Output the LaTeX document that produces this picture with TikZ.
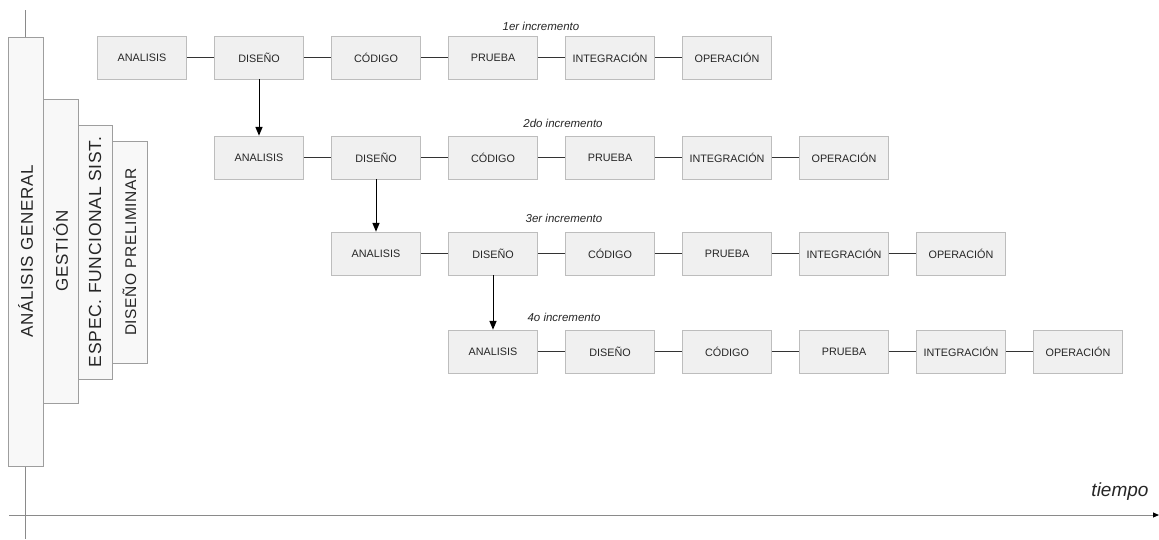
\documentclass[tikz,border=0pt]{standalone}
\usepackage{fontspec}
\setmainfont{Liberation Sans}
\newfontfamily\barfont[LetterSpace=4]{Liberation Sans}
\usepackage{xcolor}
\usetikzlibrary{arrows}
\usetikzlibrary{arrows.meta}
\usetikzlibrary{shapes}

\definecolor{boxfill}{HTML}{F0F0F0}
\definecolor{boxline}{HTML}{BDBDBD}
\definecolor{barfill}{HTML}{F8F8F8}
\definecolor{barline}{HTML}{9E9E9E}
\definecolor{axisline}{HTML}{8A8A8A}
\definecolor{linkline}{HTML}{333333}

\tikzset{
  phase/.style={draw=boxline, fill=boxfill, line width=0.8pt, minimum width=89pt,
    minimum height=43pt, inner sep=0pt, text=black!85,
    font=\fontsize{10.8}{12}\selectfont},
  bar/.style={draw=barline, fill=barfill, line width=0.8pt, rotate=90,
    inner sep=0pt, text=black!85},
  link/.style={draw=linkline, line width=1.3pt},
  down/.style={draw=black, line width=1pt, -triangle 45},
  inclabel/.style={font=\fontsize{11.5}{13}\selectfont\itshape, text=black!85}
}

\begin{document}
\begin{tikzpicture}[x=1pt, y=-1pt]
\useasboundingbox (0,0) rectangle (1159,539);
% Zeitachsen:
\coordinate (vtop) at (25,10);
\coordinate (vbot) at (25,539);
\coordinate (hleft) at (9,515);
\coordinate (hright) at (1159,515);
\draw[axisline, line width=1pt] (vtop) -- (vbot);
\draw[axisline, line width=1pt, -{Triangle[length=6pt, width=5pt, color=black]}] (hleft) -- (hright);
\node[font=\fontsize{19}{21}\selectfont\itshape, text=black!85] (tiempo) at (1120,492) {tiempo};
% Balken links:
\node[bar, minimum width=429pt, minimum height=35pt, font=\barfont\fontsize{17}{19}\selectfont] (general) at (25.5,251.5) {ANÁLISIS GENERAL};
\node[bar, minimum width=304pt, minimum height=35pt, font=\barfont\fontsize{17}{19}\selectfont] (gestion) at (60.5,251) {GESTIÓN};
\node[bar, minimum width=254pt, minimum height=34pt, font=\barfont\fontsize{17.5}{19}\selectfont] (espec) at (95,252) {ESPEC. FUNCIONAL SIST.};
\node[bar, minimum width=222pt, minimum height=35pt, font=\barfont\fontsize{15.5}{18}\selectfont] (prelim) at (129.5,252) {DISEÑO PRELIMINAR};
% Inkremente, Zeile fuer Zeile:
\foreach \r/\yy in {0/57.5, 1/157.5, 2/253.5, 3/351.5} {
  \foreach \t [count=\c from 0] in {ANALISIS, DISEÑO, CÓDIGO, PRUEBA, INTEGRACIÓN, OPERACIÓN}
    \node[phase] (r\r c\c) at ({142+117*(\r+\c)}, \yy) {\t};
  \foreach \c/\n in {0/1, 1/2, 2/3, 3/4, 4/5}
    \draw[link] (r\r c\c) -- (r\r c\n);
}
% Beschriftung der Inkremente:
\node[inclabel] (inc1) at (541,26) {1er incremento};
\node[inclabel] (inc2) at (563,123) {2do incremento};
\node[inclabel] (inc3) at (564,218) {3er incremento};
\node[inclabel] (inc4) at (564,317) {4o incremento};
% vom DISEÑO zur naechsten Zeile:
\draw[down] (r0c1) -- (r1c0);
\draw[down] (r1c1) -- (r2c0);
\draw[down] (r2c1) -- (r3c0);
\end{tikzpicture}
\end{document}
